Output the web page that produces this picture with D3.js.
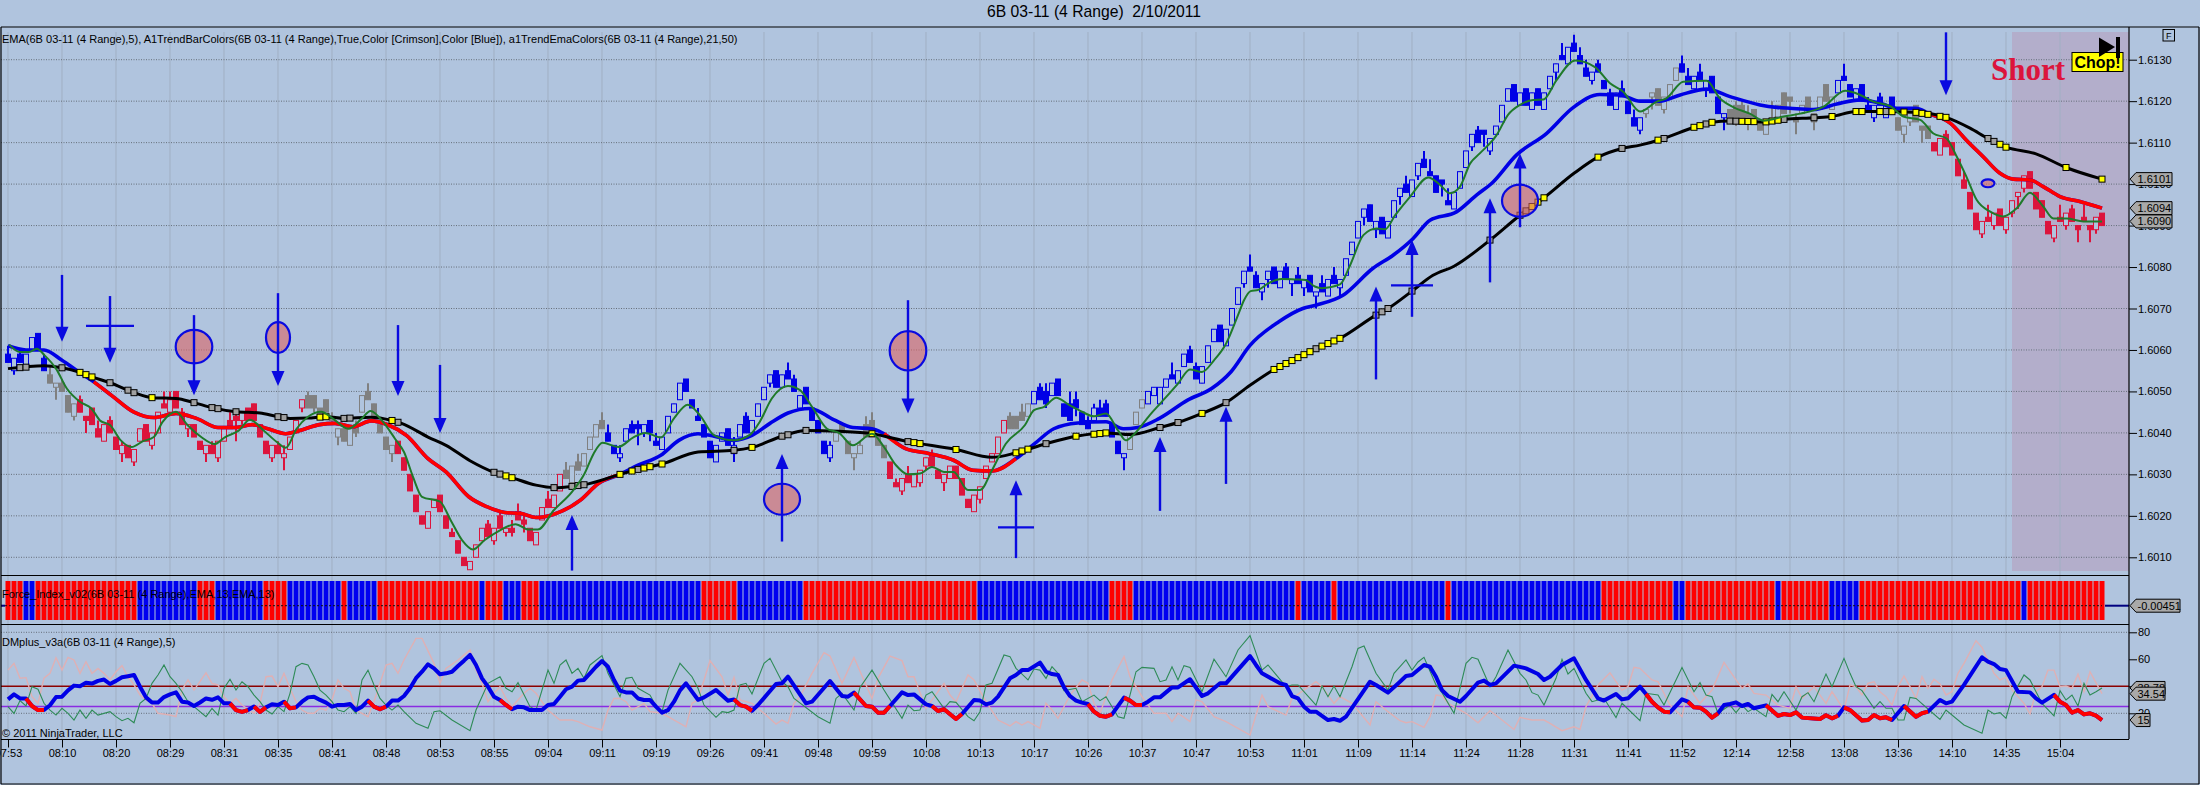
<!DOCTYPE html>
<html>
<head>
<meta charset="utf-8">
<title>6B 03-11 (4 Range)</title>
<script src="https://cdn.jsdelivr.net/npm/d3@7"></script>
<style>
  html, body { margin: 0; padding: 0; background: #b0c4de; overflow: hidden; }
  svg { display: block; font-family: "Liberation Sans", Arial, sans-serif; }
  text { fill: #000; }
</style>
</head>
<body>
<div id="chart"></div>
<script>
// all prices are in pips above 1.6000 (62 = 1.6062), bars are numbered from the left
var timeLabels = ["07:53","08:10","08:20","08:29","08:31","08:35","08:41","08:48","08:53","08:55","09:04","09:11","09:19",
  "09:26","09:41","09:48","09:59","10:08","10:13","10:17","10:26","10:37","10:47","10:53","11:01","11:09","11:14",
  "11:24","11:28","11:31","11:41","11:52","12:14","12:58","13:08","13:36","14:10","14:35","15:04"];
var priceTicks = [10,20,30,40,50,60,70,80,90,100,110,120,130];
var dmTicks = [20,40,60,80];

var barOpen = [59,55,59,56,60,64,58,54,51,52, 49,44,48,44,46,41,38,43,39,35, 37,33,38,42,37,40,47,45,50,45,
  41,42,38,35,37,34,38,43,44,43, 46,47,42,38,34,37,34,36,40,46, 49,49,46,48,44,39,41,37,42,45,
  50,47,42,39,35,38,34,30,25,20, 17,22,25,20,16,14,10,7,10,14, 18,14,20,16,17,21,19,17,13,19,
  24,22,26,31,28,33,32,36,39,43, 40,37,34,38,42,42,40,43,38,36, 40,45,48,53,48,44,42,38,33,38,
  41,35,39,44,40,44,48,52,55,51, 55,53,46,51,46,43,38,34,38,42, 38,34,35,42,43,39,37,33,28,26,
  30,27,28,32,35,31,28,29,32,29, 24,21,24,29,33,35,40,44,44,45, 44,47,51,50,49,53,47,47,48,45,
  43,43,46,47,42,38,34,36,42,46, 47,49,47,51,54,52,56,60,56,52, 57,62,66,61,66,71,76,80,78,74,
  77,80,75,80,76,78,75,78,73,76, 73,78,75,78,83,87,92,95,89,92, 87,92,97,100,97,102,106,103,102,101,
  96,94,99,104,109,113,113,108,112,115, 120,124,119,123,118,123,118,123,127,131,
  129,134,131,128,125,129,125,122,118,123, 120,116,113,117,121,123,118,121,125,129,
  126,123,127,123,126,121,116,118,119,119, 117,118,115,112,116,115,122,121,116,117,
  121,117,118,124,118,122,126,124,120,124, 119,116,121,116,121,116,112,115,119,114,
  114,110,107,112,110,106,101,98,93,88, 92,90,94,89,93,97,99,103,98,96, 91,87,92,90,94,90,92,90,89,93];
var barClose = [57,58,57,59,63,60,55,52,52,50, 45,47,45,43,42,39,42,40,36,37, 34,36,41,38,40,45,46,48,46,42,
  42,39,36,37,35,38,41,41,43,45, 43,43,39,35,37,35,35,39,43,48, 46,46,44,45,43,41,38,41,40,49,
  48,44,40,36,37,35,31,26,21,18, 21,24,21,17,15,11,8,9,13,17, 15,17,17,17,16,19,18,14,16,22,
  22,25,30,29,32,31,35,39,42,41, 38,35,35,41,40,41,42,40,37,39, 44,47,52,50,46,43,39,34,37,40,
  37,37,42,40,43,47,51,54,51,54, 53,50,49,47,43,40,35,37,40,40, 35,35,37,39,39,37,34,29,27,29,
  28,30,31,34,32,29,30,32,29,25, 22,25,27,32,35,39,43,41,41,43, 47,50,48,47,52,49,44,43,46,42,
  41,46,44,44,39,35,35,40,45,48, 50,51,51,53,53,55,59,57,53,56, 61,65,62,65,70,75,79,79,75,76,
  79,76,79,77,77,76,77,74,74,74, 77,76,77,82,86,91,94,91,91,88, 91,96,99,98,101,105,104,102,98,100,
  95,98,103,108,112,110,112,111,114,119, 123,120,122,119,122,119,122,126,129,130,
  133,132,129,126,127,127,123,119,122,121, 117,114,116,118,122,119,121,124,128,127,
  124,126,125,125,122,117,117,115,116,115, 116,115,113,115,115,119,117,120,115,119,
  118,115,121,120,121,125,125,121,123,120, 118,119,119,119,118,113,114,117,115,113,
  111,108,111,109,107,102,99,94,89,91, 91,93,90,92,96,98,102,99,94,92, 88,90,91,93,91,89,91,89,92,90];
var barHigh = [61,58,60,59,63,64,59,56,52,53, 49,47,49,44,46,43,42,44,39,38, 37,36,41,42,40,45,50,50,50,46,
  42,42,38,37,38,38,41,45,45,45, 46,47,42,38,37,38,37,39,43,48, 50,49,46,48,45,41,41,41,43,49,
  52,47,42,39,37,38,34,30,25,20, 21,24,25,20,17,14,10,9,13,17, 19,17,21,17,19,23,20,17,16,22,
  26,25,30,33,32,35,35,39,42,45, 42,37,37,41,43,43,42,43,40,39, 44,47,52,53,48,46,42,38,37,40,
  41,39,42,45,43,47,51,54,55,54, 57,54,49,51,46,43,38,38,40,42, 38,35,38,44,45,39,37,33,29,29,
  32,30,31,34,36,31,30,32,32,29, 24,25,27,32,35,39,43,45,44,47, 47,50,52,52,52,53,47,50,50,45,
  44,47,48,48,42,38,35,40,45,48, 50,51,51,53,57,55,59,61,57,56, 61,65,66,65,70,75,79,83,79,76,
  79,80,79,81,77,80,77,78,74,78, 77,80,77,82,86,91,94,95,91,92, 91,96,99,102,101,105,108,106,102,101,
  99,98,103,108,112,114,113,111,114,119, 123,124,122,123,122,123,122,126,129,134,
  133,136,133,130,127,130,125,123,122,125, 120,118,116,118,122,123,121,124,128,131,
  128,126,129,125,126,121,117,118,120,120, 119,118,115,115,120,119,122,121,117,119,
  121,117,121,124,121,125,129,124,123,124, 121,119,122,119,121,116,114,117,119,114,
  114,110,111,113,110,106,103,98,93,91, 95,93,94,92,96,98,102,103,98,96, 91,90,95,93,95,90,95,90,92,93];
var barLow = [57,54,57,56,60,60,55,52,48,50, 45,43,45,40,42,39,38,40,36,33, 34,32,38,38,36,40,46,45,46,42,
  39,39,36,33,35,33,38,41,38,42, 43,43,39,35,33,35,31,36,40,45, 46,45,44,45,42,37,38,37,39,45,
  48,44,40,36,33,35,31,26,21,18, 17,22,21,17,15,11,8,7,10,14, 15,13,17,15,15,19,16,14,13,19,
  22,22,26,29,28,31,32,36,39,41, 38,35,33,38,40,37,39,38,37,36, 40,45,48,50,46,43,39,34,33,38,
  37,33,39,40,40,44,48,51,51,51, 53,50,46,47,43,40,35,33,38,40, 35,31,35,39,39,37,34,29,27,25,
  28,27,27,31,32,29,26,29,29,25, 22,21,23,29,33,35,40,41,41,43, 44,47,48,46,49,49,44,43,44,42,
  41,43,44,44,39,35,31,36,42,46, 47,49,47,51,53,52,56,57,53,52, 57,62,62,61,66,71,75,79,75,72,
  75,76,75,77,73,76,73,74,70,74, 73,76,73,78,83,87,90,91,87,88, 87,92,95,98,97,101,104,102,98,97,
  95,94,99,104,108,110,109,107,112,115, 120,120,119,119,118,119,118,123,125,130,
  129,132,129,126,124,127,123,119,118,121, 117,114,112,116,118,119,117,121,125,127,
  124,123,125,121,122,117,113,115,114,115, 113,115,113,112,115,115,117,117,112,117,
  118,113,118,120,118,122,125,121,120,120, 118,115,119,116,118,113,110,114,115,110,
  111,108,107,109,107,102,99,94,89,87, 91,89,90,88,92,94,98,99,94,92, 88,86,91,89,91,86,91,86,88,90];

// bar colours as runs: last bar of the run and its colour
var barRunEnd = [6,11,49,64,92,99,137,146,166,170,186,189,272,278,286,304,314,320,349];
var barRunColor = ["blue","gray","crimson","gray","crimson","gray","blue","gray","crimson","gray","blue","gray","blue","gray","blue","gray","blue","gray","crimson"];

// force index cells, runs alternate starting with red
var forceRunEnd = [2,4,21,31,34,42,46,55,56,61,78,79,82,85,88,115,121,132,161,183,187,214,215,220,221,239,240,265,277,279,294,295,303,308,335,336,349];

var emaFast = [[0.2,61.3],[2,59.5],[3.5,59.5],[4.8,60.3],[6.1,58.7],[8,55.5],[9.8,50.7],[12,47.5],[13.9,45.9],[15.4,42.9],[17,41.9],[18.8,38.2],[20.6,36.6],[22.5,38],[24.3,39],[25.8,42.7],[28,45.1],[29.9,41.9],[32.2,39],[34.4,37.3],[36.2,39],[38.5,40.6],[40.3,43.2],[42.6,40.6],[44.8,37.8],[46.3,36.4],[48.1,41],[50,43.9],[52.2,45.1],[54.1,43.5],[56.7,41],[59,43.5],[60.4,45.3],[62.7,42.3],[64.5,38.6],[66,35.4],[67.5,29.4],[69,24.6],[72,23.4],[73.8,18.9],[75.7,14.1],[77.5,11.9],[79.4,14.1],[82,16.5],[84.6,18],[86.8,16.7],[88.3,16.7],[91,21.4],[94,25.8],[96.1,30.2],[97.6,35],[99.1,37.6],[101.7,36.6],[104.3,39],[106.2,40],[108.8,38.9],[111,43.5],[113.3,46.8],[115.3,44.3],
  [117.7,39.4],[120.9,38.2],[123.7,39.6],[125.3,42.7],[127.3,48.3],[130,51.3],[132,50.3],[134,46.3],[136.5,41],[138.5,40],[140.8,37],[144,39.8],[146,36.6],[148,32.2],[150,30],[152,30.2],[154,31.8],[156,30.6],[157.6,30.6],[160,26.2],[162,26.2],[164,31],[166.3,37.4],[169.5,41.9],[171,45.5],[172.7,46.3],[174.7,48.5],[176.7,46.9],[179,45.1],[181,44],[183,44.7],[185,40.6],[186.3,38.2],[187.5,39.4],[190.3,44.3],[192.3,47.5],[195,51.9],[197,55.3],[199,54.7],[201,57.5],[203,61.5],[205,68.4],[206,72],[207.1,74.2],[208.4,74.5],[210.1,76.1],[212.3,77.1],[214.5,77],[216.2,76.9],[217.8,75.3],[219,74.9],
  [222,75.8],[223.7,80.5],[225.9,87.7],[228.1,89.3],[229.5,89.1],[231.2,92.5],[233.7,97],[236.7,101.6],[238.7,99.8],[240.3,97.8],[242,99.4],[243.7,105],[245.3,107.4],[248.1,111.8],[250,116.7],[252,119.1],[254.2,120.3],[255.9,120.4],[258.1,125.1],[261.2,129.8],[264.5,128.2],[267,124.3],[269.2,122.3],[272,117.5],[274.8,119.9],[276.4,120.7],[279.2,124.7],[283.1,124.9],[285.3,120.7],[287.6,118.5],[290.3,117],[292.6,115.3],[296,116.3],[298.7,117],[302.6,118.7],[306.2,122.5],[308.7,121.5],[310.9,119.9],[313.7,118.8],[315.9,116.3],[318.7,115.5],[320.9,112.2],[323.1,111],[324.8,106.6],[326.4,101.8],[328.1,96.2],[330.3,93.4],[332.5,92.2],[334.8,94.2],[337,97.9],[339.2,94.6],[340.9,91.7],[343.1,91.7],[345.9,91],[349,91]];

var emaTrend = [[0,61],[3,60],[6,60],[9,57.5],[11.5,55],[14.3,52.3],[17.3,49],[21,45],[24.3,43.7],[28,44.7],[31.4,43.5],[35,41.3],[38,41.3],[40.7,42],[43.3,41],[46.3,39.8],[48.5,40.5],[51.9,42],[54.5,42.3],[57.5,41.5],[60.5,42.9],[63.4,41.9],[66.4,39.4],[70,33.8],[73,30.6],[76.8,24.6],[79.8,22.2],[82.8,20.8],[85.4,20.6],[88,19.6],[91,20.4],[95.4,23.8],[98.4,27.8],[102,30],[105,32.2],[108.8,34.6],[111.8,38.2],[115,39.8],[117.7,39.2],[121,38.2],[124,39.4],[127,42.3],[130,44.8],[133.7,45.9],[137.6,43.2],[140.8,41.3],[144,41],[146,39.8],[149.6,36.2],[153.6,35],[157.6,33.4],[160.8,31],[164,30.8],[168,33.8],[171.1,37.4],[174.3,41],[178.3,42.4],[183,42.7],[185.9,41],[188.3,41.3],[191.9,43.5],[196.6,47.9],[200.6,50.7],[203.8,54.7],[207,61.1],[211.8,66.8],[215.8,70],[218,70.8],[222.5,73.2],[227.5,79.7],[230.9,82.9],[234.2,86.9],[237,91.3],[241.4,93.3],[244.8,97.4],[247.3,100.2],[251.4,107],[256.4,112.2],[260.9,118.5],[265.3,121.6],[268.7,121.5],[272,120],[275.3,120],[278.7,121.5],[283.1,122.9],[287,121.1],[292,119.1],[294.8,118.5],[297,118.3],[300.9,118],[304.8,119.3],[308.7,120.3],[312,119.5],[314.8,118.3],[318,118.3],[320.3,116.9],[323.7,114.7],[326.4,110.6],[329.2,106.6],[332,102.6],[334.2,101.2],[337,101],[339.2,99.4],[342,97],[345.3,95.8],[349,94.2]];
// stretches of the trend line that are red, the rest is blue
var trendRedFrom = [14.3,146,320.3];
var trendRedTo = [102,168,349];

var emaSlow = [[0,55.5],[6,56.2],[9,55.7],[12,54.6],[14,53.5],[17,52.1],[21,49.7],[24,48.5],[28,48.3],[31,47.3],[34,46.1],[38,45.1],[42,44.8],[45,43.9],[47,43.5],[50,43.6],[53,43.9],[56,43.5],[60.4,43.8],[64,43],[65.6,42.3],[70,39],[73,37],[77,33.3],[81,30.5],[84,29.2],[88,27.4],[91,26.8],[94,27.1],[96,27.5],[102,30],[105,31.2],[109,32.5],[115,35.4],[121,35.8],[124,36.5],[129,39.2],[133,40.6],[138.4,40.4],[144,39.8],[150,37.9],[158,36],[164,34.1],[168,35.2],[173,37.4],[178,39.2],[183,40],[187,39.6],[192,41.3],[195,42.5],[199,44.7],[203,47.3],[207,51.5],[211,55.3],[218,60.3],[222,62.8],[228,68.4],[230,70],[234,74.2],[237.5,78],[241,80.2],[247,86.5],[252,92.5],[256,96.7],[261,102.6],[265,106.5],[269,108.6],[272,109.4],[276,111],[281,113.7],[284,114.9],[287,115.2],[293,115],[296,115.6],[301,116],[304,116.3],[308,117.5],[313,117.5],[318,117.3],[323,116.1],[327,113.5],[330,111],[333,108.9],[338,107.3],[343,104],[349,101.2]];
var slowYellowBars = [12,13,14,24,52,53,64,83,84,102,104,106,107,109,124,144,151,152,158,168,169,170,178,181,182,183,199,211,212,213,214,215,216,217,219,220,221,222,254,255,256,265,275,281,282,284,289,290,291,293,294,295,304,308,309,312,314,316,318,319,320,322,323,332,333,343,349];
var slowGrayBars = [2,3,9,17,20,21,31,34,35,38,45,46,56,57,65,81,82,91,94,95,96,105,121,129,130,133,150,173,192,195,203,218,228,229,230,234,247,252,253,269,276,283,287,288,296,301,313,330,331];

// blue hand drawn arrows: bar, tail price, tip price
var arrowBar = [9,17,31,45,65,72,150,323,94,129,168,192,203,228,234,247,252];
var arrowTail = [78.1,73,68.4,73.7,66,56.4,72,136.6,6.8,13.8,9.8,21.2,27.7,52.9,68,76.3,89.6];
var arrowTip = [62,56.9,49.1,51.3,48.9,40,44.7,121.4,20.2,34.9,28.6,39,46.3,75.3,86.5,96.6,107.4];
var crossBar = [17,168,234];
var crossPrice = [65.8,17.2,75.6];
var crossHalfBars = [4,3,3.5];
var circleBar = [31,45,129,150,252,330];
var circlePrice = [60.8,63,24,59.8,96,100.2];
var circleBars = [3.05,2,3,3.05,3,1.08];
var circlePips = [4.03,3.7,3.74,4.75,3.86,0.96];

// DM lines, 0-100 scale
var dmMain = [[0,30.3],[1,34],[2,31],[3,31],[4,25.4],[5,22.4],[6,22.4],[7,26],[8,32],[9,32.3],[10,37],[11,40.5],[12,40],[13,42.7],[14,42],[15,44],[16,45],[17,41.7],[18,44],[19,46.7],[20,47.5],[21,48.4],[22,39.7],[23,31.8],[24,28],[25,28],[26,32],[27,34],[28,35.5],[29,28.6],[30,28],[31,25.4],[32,28],[33,31],[34,30],[35,31.8],[36,27.4],[37,27.4],[38,22.4],[39,21],[40,22.4],[41,25],[42,21],[43,24.4],[44,26.7],[45,26.2],[46,28.6],[47,23.7],[48,24.4],[49,28.6],[50,31.8],[51,32.3],[52,29.9],[53,27.9],[54,24.9],[55,26.2],[56,26.2],[57,26.9],[58,22.4],[59,24.9],[60,29.4],[61,24.9],[62,23],[63,24.9],[64,29.4],[65,29.4],[66,32.8],[67,38.5],[68,46],[69,50.8],[70,56.3],[71,53.3],[72,48.9],[73,49.6],[74,50.8],[75,55],[76,59],[77,63.2],[78,55.8],[79,45.9],[80,39.7],[81,32.3],[82,29.9],[83,26.2],[84,23],[85,24.9],[86,24.4],[87,22.4],[88,22.4],[89,22.4],[90,26.2],[91,26.9],[92,32.3],[93,37.8],[94,39.7],[95,44.2],[96,44.7],[97,49.6],[98,54.5],[99,58.7],[100,54.5],[101,44.7],[102,36.8],[103,35.5],[104,35.5],[105,31],[106,29.9],[107,29.9],[108,24.9],[109,20.5],[110,22.4],[111,28.6],[112,37],[113,42.2],[114,36],[115,30],
  [116,31.8],[118,37.2],[120,29.3],[121,30.3],[122,26.1],[123,24.9],[124,21.9],[125,26.1],[128,41.7],[129,42.2],[130,47.1],[133,27.4],[134,28.6],[137,43.9],[139,32.8],[140,32.3],[141,35.3],[143,25.4],[144,24.9],[145,20.5],[146,20.5],[147,25.4],[149,35.5],[150,33.5],[151,34],[153,26.6],[154,25.4],[155,21.7],[156,23],[158,15.8],[159,19.5],[161,29.9],[162,29.4],[163,26.6],[164,27.9],[165,32.3],[167,45.9],[168,48.4],[169,52],[170,52],[172,57.5],[173,50.8],[174,49.1],[175,48.4],[176,39.2],[177,32.8],[178,29.4],[179,27.9],[180,26.9],[181,21.2],[182,18.2],[183,17.5],[184,19.2],[186,31.6],[187,29.4],[188,26.1],[189,26.1],[190,28.6],[191,31.8],[192,31.8],[194,39.2],[195,39.2],[197,45.2],[199,32.8],[200,34.8],[202,42.2],[203,42.2],[207,62.4],[208,55.8],[209,49.6],[212,42.2],[213,41],[214,32.8],[215,31.1],[216,24.9],[217,21.2],[218,21.2],[220,15],[221,15.8],[222,14.5],[223,17.5],[227,43.4],[228,41],[230,35.3],[232,43.4],[233,47.6],[234,48.4],[236,55.8],[237,54.5],[238,47.1],[239,37.2],[240,32.8],[242,28.6],[243,32.8],[245,42.7],[246,44.2],[247,41],[248,42.2],[251,55.3],[253,53.3],[255,49.1],[256,44.7],[257,47.1],[259,55.8],[261,60.7],[263,44.7],[265,31.1],[266,29.4],[268,34.3],[269,30.3],[270,31.1],[272,39.7],[273,34.3],[274,28.6],[275,24.4],[276,21.2],[277,20.7],[279,30.3],[280,28.6],[281,24.4],[282,24.2],[283,21.2],[284,16.8],[285,20],[286,26.1],[287,26.9],[288,28.1],[289,25.4],[290,26.9],[291,23.7],[293,25.9],[295,18.2],[296,19.5],[297,18.7],[298,20.7],[299,16.8],[302,15.8],[303,18.5],[304,16.3],[305,18.2],[306,24.4],[307,22.4],[309,14.6],[310,15],[311,18.7],[312,16.3],[313,17],[314,15],[316,25.4],[318,17.5],[319,20],[320,21.2],[322,29.9],[323,27.4],[324,28.6],[326,41],[329,61.5],[330,58.3],[331,56.5],[332,52.8],[333,52],[335,36],[337,35.5],[338,31],[339,27.9],[341,33.6],[342,28.6],[343,26.2],[344,20.5],[345,22.4],[346,19.2],[347,20],[348,18.3],[349,15]];
var dmRedFrom = [3,37,41,46,60,82,121,141,154,180,186,273,280,293,306,316,341];
var dmRedTo = [6,40,43,48,63,84,124,147,159,184,189,277,285,305,314,320,349];

var dmPlus = [[0,24.9],[1,19.9],[2,29.4],[3,25.4],[4,39.7],[5,37.8],[6,27.4],[7,22.4],[8,18.7],[9,23.7],[10,20],[11,15],[12,22.4],[13,16.3],[14,22.4],[15,18.7],[17,21.2],[18,17.5],[19,14.5],[20,16.3],[21,13],[22,27.4],[23,31],[24,42.2],[25,48.4],[26,55.8],[27,47.1],[28,42.2],[29,36],[30,28.6],[31,24.9],[33,17.5],[34,23.7],[35,18.7],[36,38.5],[37,45.2],[38,37.2],[39,43.4],[40,39.7],[41,33.5],[42,28.6],[43,22.4],[44,19.5],[45,24.9],[46,21.2],[47,34.8],[48,54.5],[49,57],[50,55.8],[51,47.1],[52,37.2],[53,33.5],[54,28.6],[55,22.4],[56,21.2],[57,24.9],[58,20],[59,44.7],[60,52],[61,41],[62,31],[63,26.1],[64,22.4],[65,26.1],[66,21.2],[68,12.6],[70,8.9],[71,21.2],[72,21.9],[74,15],[77,7.1],[78,22.4],[80,42.2],[82,47.1],[83,38.5],[84,36],[85,42.7],[87,24.9],[88,22.4],[90,52],[91,42.2],[92,55.8],[93,59.5],[94,49.6],[95,53.3],[96,45.9],[97,55.8],[99,62.7],[100,49.6],[102,32.3],[103,45.9],[104,46.7],[105,38.5],[107,33.5],[108,25.4],[109,21.2],[110,37.2],[112,57],[114,47.1],[115,38.5],
  [116,26.1],[118,17],[119,21.2],[120,20.5],[121,22.4],[122,41],[123,42.2],[124,34.3],[126,57],[127,60.7],[129,43.4],[130,39.7],[131,31],[135,17.5],[137,12.6],[138,31],[139,34.8],[141,22.4],[142,39.2],[144,52],[146,37.2],[149,16.3],[150,26.1],[151,21.9],[152,22.4],[153,33.5],[154,36],[156,23.7],[157,28.6],[158,28.1],[160,17.5],[161,14.5],[162,21.2],[163,41],[164,42.2],[166,63.2],[167,62],[168,53.3],[170,44.7],[171,52.8],[172,52],[173,45.9],[174,54.5],[175,49.6],[176,36.8],[178,38.5],[179,28.6],[181,33.5],[182,29.4],[183,32.3],[185,17.5],[186,16.3],[188,50.8],[189,54],[191,53.3],[192,43.4],[193,44.7],[194,54.5],[195,44.7],[196,55.3],[197,54],[199,36],[201,60],[203,47.1],[205,66.9],[207,77.5],[209,52],[210,55.8],[213,39.7],[214,41],[215,41],[218,26.1],[219,40.2],[220,32.3],[221,40.2],[222,32.3],[224,54.5],[225,68.1],[226,69.8],[228,49.6],[230,37.2],[231,49.6],[232,54.5],[233,59.5],[234,52],[235,58],[236,61.5],[238,41],[239,35.3],[241,20],[243,57],[244,61.5],[245,60],[247,39.7],[248,47.1],[250,66.9],[252,49.6],[253,44.7],[254,35.3],[255,33.5],[256,26.1],[258,45.9],[259,60],[260,49.1],[261,53.3],[263,34.8],[264,28.6],[266,31.1],[268,16.8],[269,27.4],[272,14.5],[273,34.8],[275,33.5],[276,26.1],[279,54],[281,36],[282,42.7],[283,33.5],[284,32.3],[285,20],[287,26.1],[288,20.5],[289,26.1],[290,21.2],[291,23.7],[293,17.5],[294,34],[295,28.6],[296,36],[298,22.4],[299,32.3],[300,35.3],[301,28.6],[303,49.1],[304,39.7],[306,60.7],[307,49.6],[308,39.7],[309,36.8],[311,23.7],[312,28.6],[313,23.7],[314,23.7],[315,15],[316,15],[317,31.8],[318,31],[320,23.2],[322,15.5],[323,22.4],[326,11.3],[329,5.2],[330,22.4],[331,19.5],[332,20.5],[333,16.3],[334,32.3],[336,48.4],[337,44.7],[338,36],[339,27.4],[341,18],[342,36.8],[343,29.9],[344,33.5],[345,25.4],[346,42.2],[347,33.5],[348,36],[349,38.78]];

var dmMinus = [[0,52],[1,57],[2,46],[3,46.4],[4,32.3],[5,27.4],[6,46],[7,49.6],[8,61.2],[9,52],[10,61.4],[11,59.5],[12,49.6],[13,58.2],[14,49.6],[15,53.3],[16,49.6],[17,44.7],[18,50.8],[19,55.3],[20,47.1],[21,41],[22,33.5],[23,29.9],[24,27.4],[25,20],[27,18.7],[28,17.5],[29,37.2],[30,44.7],[31,37.2],[33,50],[34,42.2],[35,41],[36,32.3],[37,27.4],[38,31],[39,26.1],[41,20],[42,27.4],[43,47.1],[44,47.6],[45,39.7],[46,49.6],[47,38.5],[48,28.6],[49,22.4],[50,20],[51,20],[52,23.7],[53,22.4],[54,29.9],[55,44.7],[56,38.5],[57,36],[58,22.4],[59,20],[60,17.5],[61,28.6],[62,42.2],[63,55.8],[64,57],[65,49.6],[66,59.5],[68,75.5],[69,75.5],[71,57],[72,42.2],[73,53.3],[75,59.5],[77,66.9],[78,52],[79,42.2],[80,28.6],[81,34.8],[82,39.7],[83,31],[84,24.9],[86,34.8],[87,38.5],[88,34.8],[90,22.4],[92,15],[94,15],[95,13.8],[97,10],[99,7.6],[100,22.4],[101,31],[102,31],[103,28.6],[104,22.4],[106,27.4],[107,21.2],[109,20],[110,17.5],[113,10],[114,27.4],[115,29.9],
  [117,59],[119,47.1],[120,33.5],[121,46.6],[122,29.9],[124,27.4],[126,20],[128,12],[129,15],[130,12.6],[131,27.4],[132,32.3],[134,49.6],[136,64.9],[137,62.4],[139,42.2],[141,61.4],[143,41],[144,31],[145,45.9],[147,62.4],[149,59],[150,47.1],[151,47.1],[153,23.7],[156,42.2],[157,33.5],[158,28.6],[160,48.4],[161,44.7],[163,28.6],[165,15],[167,10.6],[168,13.8],[169,11.3],[170,13.8],[172,8.9],[173,27.4],[174,22.4],[175,16.3],[177,33.5],[179,44.7],[180,42.2],[181,27.4],[182,20],[184,44.7],[186,62],[187,47.1],[189,32.3],[191,20],[193,20],[194,13.8],[195,20],[197,13.8],[198,29.9],[199,28.6],[201,17.5],[203,13.8],[207,3.9],[209,33.5],[210,24.9],[213,18.7],[214,31],[218,43.4],[219,39.7],[221,27.4],[222,32.3],[224,27.4],[227,11.3],[228,28.6],[230,21.2],[232,14.5],[233,13],[234,13.8],[236,9.6],[237,17.5],[238,33.5],[239,32.8],[240,27.4],[241,25],[243,20],[245,13],[247,21.9],[249,15],[251,8],[252,17],[254,15],[256,15],[257,12.6],[259,7.1],[261,10],[262,8],[263,25],[265,41],[267,50],[269,37.2],[270,39.7],[271,54],[272,53.3],[274,44.7],[275,43.4],[277,26.1],[279,17.5],[280,39.7],[282,27.4],[284,37.2],[286,57.7],[288,44.7],[289,38.5],[290,41.7],[291,34.8],[293,33.5],[295,26.1],[297,23.7],[298,39.7],[299,31],[301,39.7],[303,27.4],[304,36],[306,22.4],[307,41],[308,39.7],[309,33.6],[310,42.2],[311,43.4],[312,36],[313,32.3],[314,26.1],[315,39.7],[316,47.6],[317,39.7],[318,31],[319,47.1],[320,38.5],[321,45.2],[322,41.7],[323,33.6],[324,36],[325,49.6],[326,57],[328,73.8],[329,68.9],[331,49.6],[332,44.7],[333,46.6],[334,37.3],[336,27.4],[337,19.5],[338,36],[339,39.7],[340,52],[341,52],[342,39.7],[343,40.2],[344,38.5],[345,49],[346,36],[347,50.8],[349,34.54]];
var dmLevels = [40,25];
var shortFromBar = 334;

var width = 2200, height = 785;
var plotRight = 2129;
var barCount = barOpen.length;

var svg = d3.select("#chart").append("svg")
    .attr("width", width)
    .attr("height", height);

svg.append("rect").attr("width", width).attr("height", height).attr("fill", "#b0c4de");

var x = d3.scaleLinear().domain([0, 349]).range([8, 2102]);
var y = d3.scaleLinear().domain([10, 130]).range([557.3, 59.7]);
var yDm = d3.scaleLinear().domain([20, 80]).range([713.3, 632.3]);

function price(d) { return (1.6 + d / 10000).toFixed(4); }
function barColor(i) {
    var name = barRunColor[d3.bisectLeft(barRunEnd, i)];
    return name == "blue" ? "#0000e6" : name == "gray" ? "#808080" : "#dc143c";
}
function forceColor(i) {
    return d3.bisectLeft(forceRunEnd, i) % 2 == 0 ? "#ff0000" : "#0000f0";
}

// short zone sits under everything
svg.append("rect")
    .attr("x", x(shortFromBar)).attr("y", 32)
    .attr("width", plotRight - x(shortFromBar)).attr("height", 539)
    .attr("fill", "#b3aecb");

// vertical grid, one line per time label, in all three panels
svg.append("g").selectAll("line").data(timeLabels).enter().append("line")
    .attr("x1", function (d, i) { return x(i * 9); })
    .attr("x2", function (d, i) { return x(i * 9); })
    .attr("y1", 32).attr("y2", 739)
    .attr("stroke", "#a0afc3").attr("stroke-width", 1);

svg.append("g").selectAll("line").data(priceTicks).enter().append("line")
    .attr("x1", 1).attr("x2", plotRight)
    .attr("y1", function (d) { return y(d); })
    .attr("y2", function (d) { return y(d); })
    .attr("stroke", "#666f7a").attr("stroke-width", 1).attr("stroke-dasharray", "1,1.5");

// candles
var candles = svg.append("g").selectAll("g").data(d3.range(barCount)).enter().append("g");
candles.append("line")
    .attr("x1", function (i) { return x(i); })
    .attr("x2", function (i) { return x(i); })
    .attr("y1", function (i) { return y(barHigh[i]); })
    .attr("y2", function (i) { return y(barLow[i]); })
    .attr("stroke", barColor)
    .attr("stroke-width", 2);
candles.append("rect")
    .attr("x", function (i) { return x(i) - 2.5; })
    .attr("width", 5)
    .attr("y", function (i) { return y(Math.max(barOpen[i], barClose[i])); })
    .attr("height", function (i) { return Math.abs(y(barOpen[i]) - y(barClose[i])); })
    .attr("fill", function (i) { return barClose[i] > barOpen[i] ? "#b0c4de" : barColor(i); })
    .attr("stroke", barColor)
    .attr("stroke-width", 1);

var priceLine = d3.line()
    .x(function (d) { return x(d[0]); })
    .y(function (d) { return y(d[1]); })
    .curve(d3.curveMonotoneX);

svg.append("path").attr("d", priceLine(emaTrend))
    .attr("fill", "none").attr("stroke", "#0000e6").attr("stroke-width", 3.6);
trendRedFrom.forEach(function (from, k) {
    var part = emaTrend.filter(function (d) { return d[0] >= from && d[0] <= trendRedTo[k]; });
    svg.append("path").attr("d", priceLine(part))
        .attr("fill", "none").attr("stroke", "#ff0000").attr("stroke-width", 3.6);
});

svg.append("path").attr("d", priceLine(emaSlow))
    .attr("fill", "none").attr("stroke", "#000").attr("stroke-width", 3);

function slowAt(bar) {
    var k = d3.bisectLeft(emaSlow.map(function (d) { return d[0]; }), bar);
    if (k == 0) return emaSlow[0][1];
    var a = emaSlow[k - 1], b = emaSlow[k];
    return a[1] + (b[1] - a[1]) * (bar - a[0]) / (b[0] - a[0]);
}
function slowMarks(bars, color) {
    svg.append("g").selectAll("rect").data(bars).enter().append("rect")
        .attr("x", function (d) { return x(d) - 3; })
        .attr("y", function (d) { return y(slowAt(d)) - 3; })
        .attr("width", 6).attr("height", 6)
        .attr("fill", color)
        .attr("stroke", "#000").attr("stroke-width", 1);
}
slowMarks(slowGrayBars, "#a0a0a0");
slowMarks(slowYellowBars, "#ffff00");

svg.append("path").attr("d", priceLine(emaFast))
    .attr("fill", "none").attr("stroke", "#1f7a2a").attr("stroke-width", 2);

// the hand drawn marks
var marks = svg.append("g");
marks.selectAll("ellipse").data(circleBar).enter().append("ellipse")
    .attr("cx", function (d) { return x(d); })
    .attr("cy", function (d, i) { return y(circlePrice[i]); })
    .attr("rx", function (d, i) { return circleBars[i] * 6; })
    .attr("ry", function (d, i) { return circlePips[i] * 4.147; })
    .attr("fill", "rgb(220,100,100)").attr("fill-opacity", 0.6)
    .attr("stroke", "#0a0ae0").attr("stroke-width", 2.2);
arrowBar.forEach(function (bar, i) {
    var cx = x(bar), tip = y(arrowTip[i]), tail = y(arrowTail[i]);
    var dir = tail > tip ? 1 : -1;
    marks.append("line").attr("x1", cx).attr("x2", cx).attr("y1", tail).attr("y2", tip + dir * 8)
        .attr("stroke", "#0a0ae0").attr("stroke-width", 2.4);
    marks.append("path")
        .attr("d", "M" + cx + "," + tip + "L" + (cx - 6.5) + "," + (tip + dir * 15) + "L" + (cx + 6.5) + "," + (tip + dir * 15) + "Z")
        .attr("fill", "#0a0ae0");
});
crossBar.forEach(function (bar, i) {
    marks.append("line")
        .attr("x1", x(bar - crossHalfBars[i])).attr("x2", x(bar + crossHalfBars[i]))
        .attr("y1", y(crossPrice[i])).attr("y2", y(crossPrice[i]))
        .attr("stroke", "#0a0ae0").attr("stroke-width", 2.2);
});

// force index panel
svg.append("g").selectAll("rect").data(d3.range(barCount)).enter().append("rect")
    .attr("x", function (i) { return x(i) - 2.5; })
    .attr("y", 581)
    .attr("width", 5)
    .attr("height", 39)
    .attr("fill", forceColor);
svg.append("line").attr("x1", 1).attr("x2", x(349)).attr("y1", 605.7).attr("y2", 605.7)
    .attr("stroke", "#111").attr("stroke-width", 1).attr("stroke-dasharray", "2,2");
svg.append("line").attr("x1", 1).attr("x2", 5).attr("y1", 605.7).attr("y2", 605.7)
    .attr("stroke", "#000080").attr("stroke-width", 2);
svg.append("line").attr("x1", x(349) + 3).attr("x2", plotRight).attr("y1", 605.7).attr("y2", 605.7)
    .attr("stroke", "#000080").attr("stroke-width", 2);

// DM panel
[80, 20].forEach(function (v) {
    svg.append("line").attr("x1", 1).attr("x2", plotRight).attr("y1", yDm(v)).attr("y2", yDm(v))
        .attr("stroke", "#666f7a").attr("stroke-width", 1).attr("stroke-dasharray", "1,1.5");
});
svg.append("line").attr("x1", 1).attr("x2", plotRight).attr("y1", yDm(dmLevels[0])).attr("y2", yDm(dmLevels[0]))
    .attr("stroke", "#8b0000").attr("stroke-width", 1.4);
svg.append("line").attr("x1", 1).attr("x2", plotRight).attr("y1", yDm(dmLevels[1])).attr("y2", yDm(dmLevels[1]))
    .attr("stroke", "#8a2be2").attr("stroke-width", 1.4);

var dmLine = d3.line()
    .x(function (d) { return x(d[0]); })
    .y(function (d) { return yDm(d[1]); });

svg.append("path").attr("d", dmLine(dmMinus))
    .attr("fill", "none").attr("stroke", "#dfb0b4").attr("stroke-width", 1.4);
svg.append("path").attr("d", dmLine(dmPlus))
    .attr("fill", "none").attr("stroke", "#2e8b57").attr("stroke-width", 1.1);
svg.append("path").attr("d", dmLine(dmMain))
    .attr("fill", "none").attr("stroke", "#0000e6").attr("stroke-width", 4).attr("stroke-linejoin", "round");
dmRedFrom.forEach(function (from, k) {
    var part = dmMain.filter(function (d) { return d[0] >= from && d[0] <= dmRedTo[k]; });
    svg.append("path").attr("d", dmLine(part))
        .attr("fill", "none").attr("stroke", "#ff0000").attr("stroke-width", 4).attr("stroke-linejoin", "round");
});

// frames
[[1, 27, 2199, 27], [1, 784, 2199, 784], [1, 27, 1, 784], [2199, 27, 2199, 784], [plotRight, 27, plotRight, 739],
 [1, 575.5, plotRight, 575.5], [1, 624.5, plotRight, 624.5], [1, 739.5, plotRight, 739.5]].forEach(function (s) {
    svg.append("line").attr("x1", s[0]).attr("y1", s[1]).attr("x2", s[2]).attr("y2", s[3])
        .attr("stroke", "#000").attr("stroke-width", 1.2);
});

// axes
var priceAxis = d3.axisRight(y).tickValues(priceTicks).tickFormat(price).tickSize(8).tickPadding(1);
svg.append("g").attr("transform", "translate(" + plotRight + ",0)").call(priceAxis)
    .call(function (g) { g.select(".domain").remove(); })
    .selectAll("text").style("font-size", "11px").style("font-family", "Liberation Sans");

var dmAxis = d3.axisRight(yDm).tickValues(dmTicks).tickFormat(d3.format("d")).tickSize(8).tickPadding(1);
svg.append("g").attr("transform", "translate(" + plotRight + ",0)").call(dmAxis)
    .call(function (g) { g.select(".domain").remove(); })
    .selectAll("text").style("font-size", "11px").style("font-family", "Liberation Sans");

var timeAxis = d3.axisBottom(d3.scaleLinear().domain([0, 342]).range([x(0), x(342)]))
    .tickValues(d3.range(timeLabels.length).map(function (i) { return i * 9; }))
    .tickFormat(function (d) { return timeLabels[d / 9]; })
    .tickSize(8).tickPadding(2);
svg.append("g").attr("transform", "translate(0,739.5)").call(timeAxis)
    .call(function (g) { g.select(".domain").remove(); })
    .selectAll("text").style("font-size", "11px").style("font-family", "Liberation Sans");

// value tags at the right edge
function tag(yPos, label, w) {
    var g = svg.append("g").attr("transform", "translate(" + (plotRight + 1) + "," + yPos + ")");
    g.append("path")
        .attr("d", "M0,0L6,-6.5H" + w + "V6.5H6Z")
        .attr("fill", "#a9a9a9").attr("stroke", "#000").attr("stroke-width", 1);
    g.append("text").attr("x", 7.5).attr("y", 4).style("font-size", "11px").text(label);
}
tag(y(101.2), "1.6101", 42);
tag(y(94.2), "1.6094", 42);
tag(y(91), "1.6090", 42);
tag(605.7, "-0.00451", 50);
tag(yDm(38.78), "38.78", 35);
tag(yDm(34.54), "34.54", 35);
tag(yDm(15), "15", 20);

// texts
svg.append("text").attr("x", 1094).attr("y", 17).attr("text-anchor", "middle")
    .style("font-size", "15.7px").style("white-space", "pre").text("6B 03-11 (4 Range)  2/10/2011");
svg.append("text").attr("x", 2).attr("y", 43).style("font-size", "11px")
    .text("EMA(6B 03-11 (4 Range),5), A1TrendBarColors(6B 03-11 (4 Range),True,Color [Crimson],Color [Blue]), a1TrendEmaColors(6B 03-11 (4 Range),21,50)");
svg.append("text").attr("x", 2).attr("y", 598).style("font-size", "11px")
    .text("Force_Index_v02(6B 03-11 (4 Range),EMA,13,EMA,13)");
svg.append("text").attr("x", 2).attr("y", 646).style("font-size", "11px")
    .text("DMplus_v3a(6B 03-11 (4 Range),5)");
svg.append("text").attr("x", 2).attr("y", 737).style("font-size", "11px")
    .text("\u00a9 2011 NinjaTrader, LLC");

svg.append("text").attr("x", 1991).attr("y", 80)
    .style("font-family", "Liberation Serif").style("font-weight", "bold").style("font-size", "31px")
    .style("fill", "#dc143c").text("Short");

svg.append("rect").attr("x", 2072).attr("y", 52.5).attr("width", 51).attr("height", 19)
    .attr("fill", "#ffff00").attr("stroke", "#000").attr("stroke-width", 1);
svg.append("text").attr("x", 2097.5).attr("y", 67.5).attr("text-anchor", "middle")
    .style("font-size", "16px").style("font-weight", "bold").text("Chop!");
svg.append("path").attr("d", "M2099,37.5L2099,57L2115,47Z").attr("fill", "#000");
svg.append("rect").attr("x", 2116).attr("y", 37).attr("width", 4).attr("height", 21).attr("fill", "#000");

svg.append("rect").attr("x", 2163).attr("y", 29.5).attr("width", 11.5).attr("height", 11.5)
    .attr("fill", "none").attr("stroke", "#000").attr("stroke-width", 1);
svg.append("text").attr("x", 2168.7).attr("y", 39).attr("text-anchor", "middle").style("font-size", "9px").text("F");
</script>
</body>
</html>
